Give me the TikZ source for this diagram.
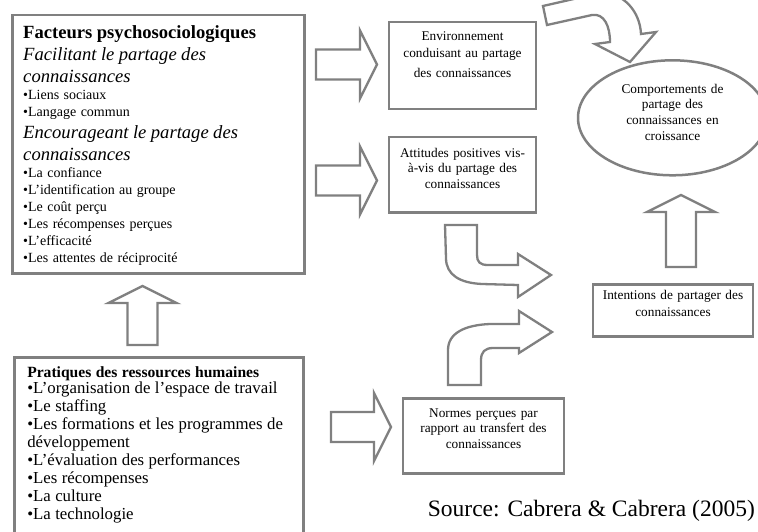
\documentclass[tikz,border=0pt]{standalone}
\usepackage{fontspec}
\setmainfont{Liberation Serif}
\usetikzlibrary{shapes.geometric}

\definecolor{contour}{RGB}{128,128,128}
\newcommand{\policetitre}{\fontsize{18.6pt}{22pt}\selectfont}
\newcommand{\policeitem}{\fontsize{14pt}{17pt}\selectfont}
\newcommand{\policerh}{\fontsize{16.8pt}{18.1pt}\selectfont}
\newcommand{\policepetit}{\fontsize{13.3pt}{15.6pt}\selectfont}
\setlength{\lineskiplimit}{-20pt}

\tikzset{
  cadre/.style={draw=contour, line width=2.5pt, fill=white, inner xsep=0pt, inner ysep=0pt, align=center, font=\policepetit},
  grandcadre/.style={cadre, align=left, anchor=north west},
  fleche/.style={draw=contour, line width=2.3pt, fill=white, line join=miter},
  pics/flechebloc/.style={code={
    \draw[fleche] (0,-15) -- (#1-17,-15) -- (#1-17,-34) -- (#1,0) -- (#1-17,34) -- (#1-17,15) -- (0,15) -- cycle;
  }},
}

\begin{document}
\begin{tikzpicture}[x=1pt, y=-1pt]
	\path[use as bounding box, fill=white] (0,0) rectangle (758,532);

	% facteurs psychosociologiques
	\node[grandcadre, text width=270pt, inner xsep=11pt, text height=23.5pt, text depth=234.5pt] (facteurs) at (11,14) {%
		{\policetitre\bfseries Facteurs psychosociologiques\par}
		{\policetitre\itshape Facilitant le partage des\par connaissances\par}
		{\policeitem •Liens sociaux\par •Langage commun\par}
		{\policetitre\itshape Encourageant le partage des\par connaissances\par}
		{\policeitem •La confiance\par •L’identification au groupe\par •Le coût perçu\par
		 •Les récompenses perçues\par •L’efficacité\par •Les attentes de réciprocité\par}};

	% pratiques RH
	\node[grandcadre, text width=263pt, inner xsep=13pt, text height=20pt, text depth=200pt] (pratiques) at (13,356) {%
		{\fontsize{15.6pt}{18pt}\selectfont\bfseries Pratiques des ressources humaines\par}
		{\fontsize{16.8pt}{14pt}\selectfont •L’organisation de l’espace de travail\par}
		{\policerh •Le staffing\par
		 •Les formations et les programmes de\newline développement\par
		 •L’évaluation des performances\par •Les récompenses\par •La culture\par •La technologie\par}};

	\node[cadre, anchor=north, text width=147pt, text height=18.3pt, text depth=68.7pt] (environnement) at (462.5,21)
		{Environnement\\[1.1pt] conduisant au partage\\[5.1pt] des connaissances};
	\node[cadre, anchor=north, text width=147pt, text height=20pt, text depth=55pt] (attitudes) at (462.5,136)
		{Attitudes positives vis-\\ à-vis du partage des\\ connaissances};
	\node[cadre, anchor=north, text width=161pt, text height=19pt, text depth=56pt] (normes) at (483.5,397)
		{Normes perçues par\\ rapport au transfert des\\ connaissances};
	\node[cadre, anchor=north, text width=160pt, text height=15.3pt, text depth=36.7pt] (intentions) at (673,283)
		{Intentions de partager des\\[1pt] connaissances};
	\node[cadre, ellipse, minimum width=189pt, minimum height=115pt, text width=130pt, text height=9pt, text depth=58pt] (comportements) at (672.5,117.8)
		{Comportements de\\ partage des\\ connaissances en\\ croissance};

	% fleches droites
	\pic at (316,64.5) {flechebloc=61};
	\pic at (316,180.5) {flechebloc=61};
	\pic at (331,427) {flechebloc=60};
	\pic[rotate=90] at (142.5,345) {flechebloc=59};
	\pic[rotate=90] at (681,267) {flechebloc=72};

	% fleches courbes
	\draw[fleche] (445,225) -- (477,225) -- (477,255) .. controls (477,262) and (480,265) .. (488,265) -- (518,265) -- (518,254)
		-- (551,275) -- (518,297) -- (518,285) -- (482,284) .. controls (460,283) and (446,275) .. (446,258) -- cycle;
	\draw[fleche] (448,385) -- (448,350) .. controls (448,333) and (465,325) .. (490,324) -- (519,324) -- (519,311)
		-- (552,332) -- (519,353) -- (519,348) -- (493,348) .. controls (485,348) and (481,352) .. (481,360) -- (481,385) -- cycle;
	\draw[fleche] (543,6) -- (547,25) -- (592,15) .. controls (604,13) and (610,26) .. (610,42) -- (595,44) -- (630,62)
		-- (656,32) -- (641,34) .. controls (640,12) and (624,-8) .. (600,-7) -- cycle;

	\node[anchor=base east, inner sep=0pt, font=\fontsize{23.5pt}{28pt}\selectfont] (source) at (755,516) {Source: Cabrera \& Cabrera (2005)};
\end{tikzpicture}
\end{document}
